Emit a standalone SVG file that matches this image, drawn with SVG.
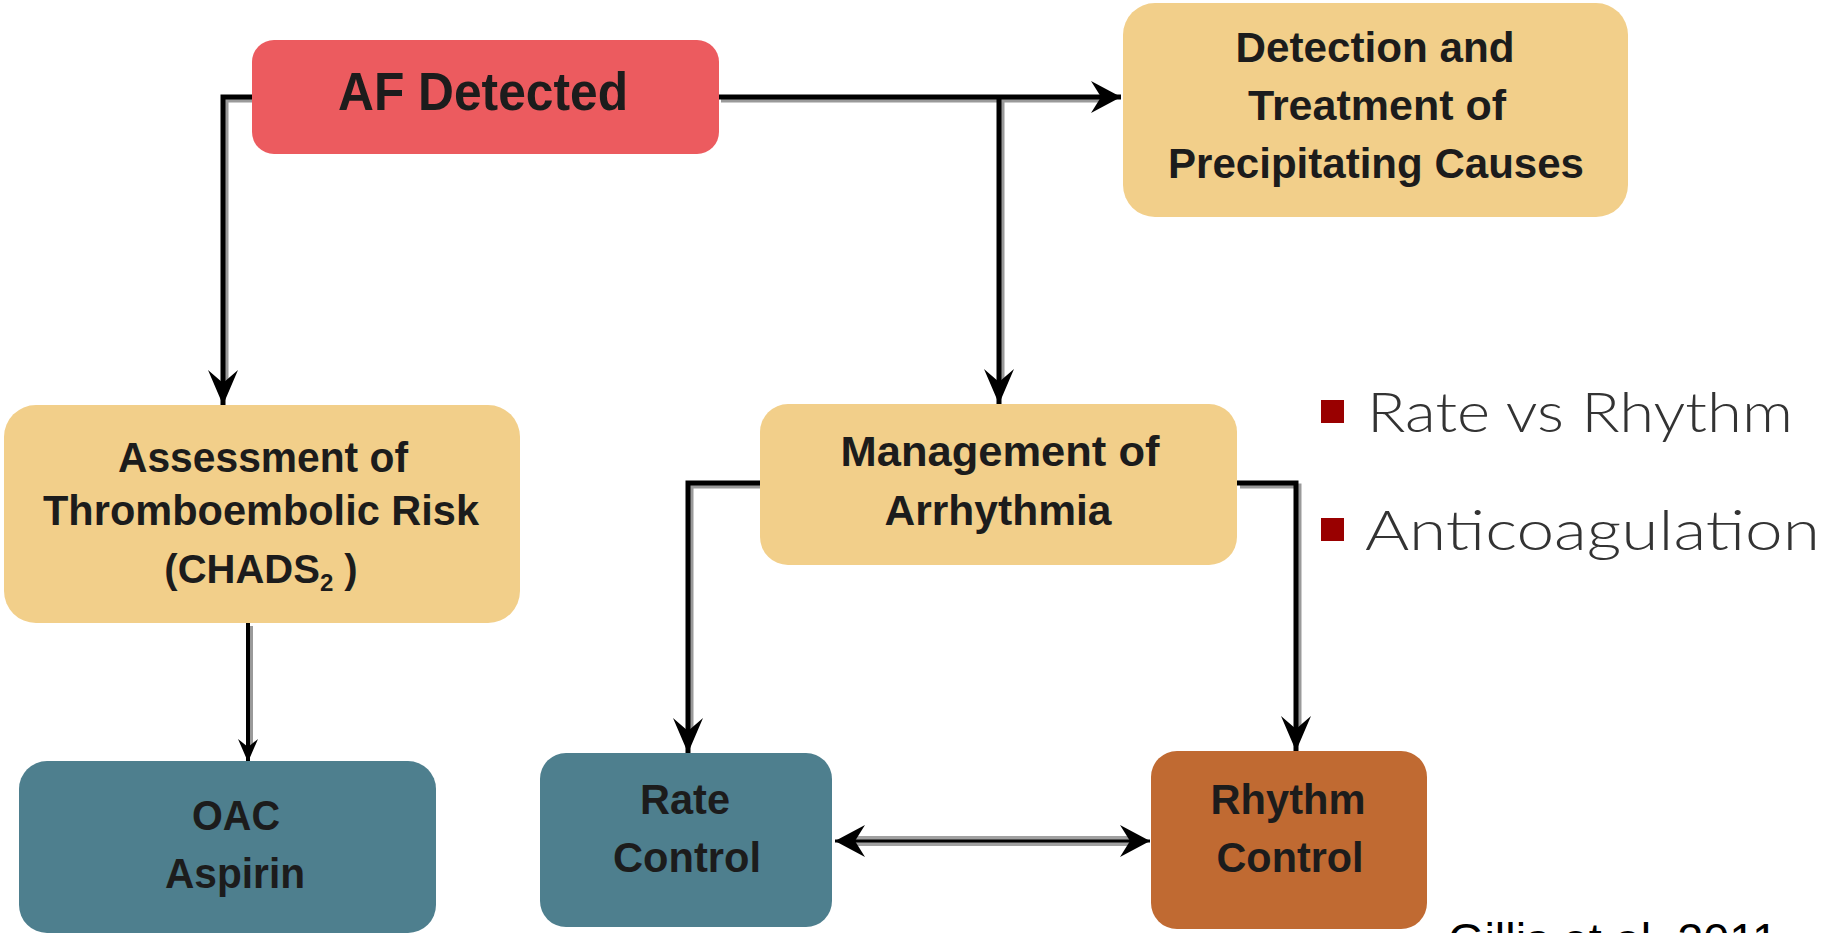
<svg xmlns="http://www.w3.org/2000/svg" width="1825" height="933" viewBox="0 0 1825 933">
<defs>
<style>
.box-red{fill:#EC5B5F}
.box-yel{fill:#F2CF8A}
.box-teal{fill:#4E7F8E}
.box-org{fill:#C06A32}
.lbl{font-family:"Liberation Sans",Arial,sans-serif;font-weight:bold;font-size:42px;fill:#1c1c1c;text-anchor:middle}
.bul{font-family:Lato,"Open Sans","Liberation Sans",sans-serif;font-weight:300;font-size:56px;fill:#333333}
.cite{font-family:"Liberation Sans",Arial,sans-serif;font-size:46px;fill:#000000}
.ln{fill:none;stroke:#000;stroke-width:5}
.sh{fill:none;stroke:#9a9a9a;stroke-width:5}
</style>
<marker id="head" viewBox="0 -16 36 32" refX="35" refY="0" markerWidth="36" markerHeight="32" markerUnits="userSpaceOnUse" orient="auto">
<path d="M0,-15 L35,0 L0,15 L13,0 Z" fill="#000"/>
</marker>
<marker id="headS" viewBox="0 -12 24 24" refX="23" refY="0" markerWidth="24" markerHeight="24" markerUnits="userSpaceOnUse" orient="auto">
<path d="M0,-10 L23,0 L0,10 L8,0 Z" fill="#000"/>
</marker>
<marker id="chev" viewBox="0 -18 32 36" refX="30" refY="0" markerWidth="32" markerHeight="36" markerUnits="userSpaceOnUse" orient="auto-start-reverse">
<path d="M0,-16 L30,0 L0,16 L10,0 Z" fill="#000"/>
</marker>
</defs>
<rect width="1825" height="933" fill="#ffffff"/>

<g id="connectors">
<g transform="translate(3,3)">
<path class="sh" d="M253,97 H223 V380"/>
<path class="sh" d="M718,97 H1100"/>
<path class="sh" d="M999,97 V380"/>
<path class="sh" d="M760,483 H688 V730"/>
<path class="sh" d="M1237,483 H1296 V728"/>
<path class="sh" d="M248,623 V745" style="stroke-width:4"/>
</g>
<path class="ln" d="M253,97 H223 V405" marker-end="url(#head)"/>
<path class="ln" d="M718,97 H1121" marker-end="url(#chev)"/>
<path class="ln" d="M999,97 V404" marker-end="url(#head)"/>
<path class="ln" d="M760,483 H688 V753" marker-end="url(#head)"/>
<path class="ln" d="M1237,483 H1296 V751" marker-end="url(#head)"/>
<path class="ln" d="M248,623 V762" style="stroke-width:4" marker-end="url(#headS)"/>
<path d="M845,841 H1140" fill="none" stroke="#a0a0a0" stroke-width="10"/>
<path d="M835,841 H1150" fill="none" stroke="#000" stroke-width="3" marker-start="url(#chev)" marker-end="url(#chev)"/>
</g>

<g id="node-af">
<rect class="box-red" x="252" y="40" width="467" height="114" rx="22"/>
<text class="lbl" x="483" y="110" style="font-size:54px" textLength="290" lengthAdjust="spacingAndGlyphs">AF Detected</text>
</g>

<g id="node-detection">
<rect class="box-yel" x="1123" y="3" width="505" height="214" rx="32"/>
<text class="lbl" x="1375" y="62" textLength="279" lengthAdjust="spacingAndGlyphs">Detection and</text>
<text class="lbl" x="1377" y="120" textLength="258" lengthAdjust="spacingAndGlyphs">Treatment of</text>
<text class="lbl" x="1376" y="178" textLength="416" lengthAdjust="spacingAndGlyphs">Precipitating  Causes</text>
</g>

<g id="node-assessment">
<rect class="box-yel" x="4" y="405" width="516" height="218" rx="32"/>
<text class="lbl" x="263" y="472" textLength="290" lengthAdjust="spacingAndGlyphs">Assessment of</text>
<text class="lbl" x="261" y="525" textLength="436" lengthAdjust="spacingAndGlyphs">Thromboembolic Risk</text>
<text class="lbl" x="261" y="583" style="font-size:40px">(CHADS<tspan style="font-size:24px" dy="8">2</tspan><tspan dy="-8"> )</tspan></text>
</g>

<g id="node-management">
<rect class="box-yel" x="760" y="404" width="477" height="161" rx="28"/>
<text class="lbl" x="1000" y="466" textLength="319" lengthAdjust="spacingAndGlyphs">Management of</text>
<text class="lbl" x="998" y="525" textLength="227" lengthAdjust="spacingAndGlyphs">Arrhythmia</text>
</g>

<g id="node-oac">
<rect class="box-teal" x="19" y="761" width="417" height="172" rx="28"/>
<text class="lbl" x="236" y="830" textLength="88" lengthAdjust="spacingAndGlyphs">OAC</text>
<text class="lbl" x="235" y="888" textLength="140" lengthAdjust="spacingAndGlyphs">Aspirin</text>
</g>

<g id="node-rate">
<rect class="box-teal" x="540" y="753" width="292" height="174" rx="26"/>
<text class="lbl" x="685" y="814" textLength="90" lengthAdjust="spacingAndGlyphs">Rate</text>
<text class="lbl" x="687" y="872" textLength="148" lengthAdjust="spacingAndGlyphs">Control</text>
</g>

<g id="node-rhythm">
<rect class="box-org" x="1151" y="751" width="276" height="178" rx="26"/>
<text class="lbl" x="1288" y="814" textLength="155" lengthAdjust="spacingAndGlyphs">Rhythm</text>
<text class="lbl" x="1290" y="872" textLength="147" lengthAdjust="spacingAndGlyphs">Control</text>
</g>

<g id="bullets">
<rect x="1321" y="400" width="23" height="23" fill="#990000"/>
<text class="bul" x="1367" y="432" textLength="426" lengthAdjust="spacingAndGlyphs">Rate vs Rhythm</text>
<rect x="1321" y="518" width="23" height="23" fill="#990000"/>
<text class="bul" x="1365" y="550" textLength="455" lengthAdjust="spacingAndGlyphs">Anticoagulation</text>
</g>

<g id="citation">
<text class="cite" x="1448" y="956" textLength="330" lengthAdjust="spacingAndGlyphs">Gillis et al. 2011</text>
</g>
</svg>
